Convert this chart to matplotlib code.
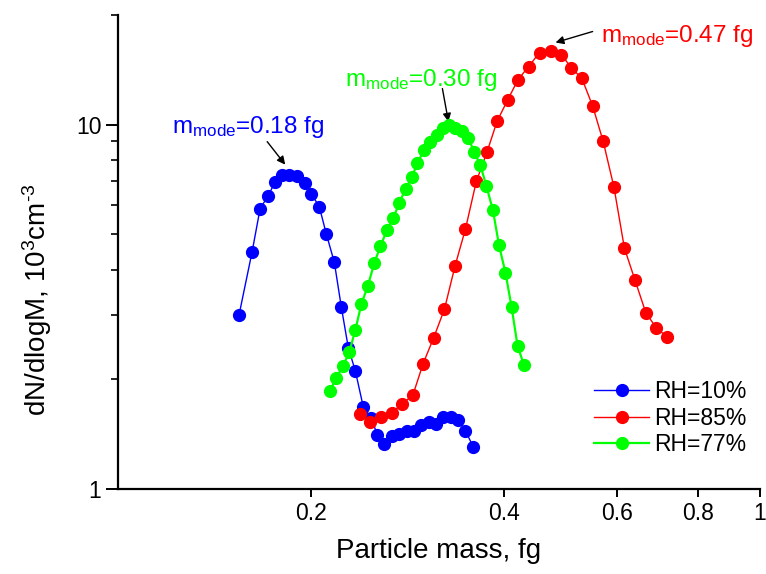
import matplotlib
matplotlib.use("Agg")
import matplotlib.pyplot as plt
from matplotlib.ticker import FixedLocator, NullFormatter, NullLocator, LogLocator

plt.rcParams['font.family'] = ['Liberation Sans', 'DejaVu Sans']
plt.rcParams['mathtext.fontset'] = 'custom'
plt.rcParams['mathtext.rm'] = 'Liberation Sans'
plt.rcParams['mathtext.it'] = 'Liberation Sans'

# ---- data ----
blue_x = [0.1544, 0.1618, 0.1665, 0.1714, 0.1758, 0.1803, 0.1848, 0.1902, 0.1958,
          0.2001, 0.2059, 0.2111, 0.2173, 0.2228, 0.2285, 0.2343, 0.2411, 0.2481,
          0.2535, 0.2600, 0.2676, 0.2744, 0.2824, 0.2896, 0.2969, 0.3056, 0.3134,
          0.3214, 0.3308, 0.3392, 0.3478, 0.3579]
blue_y = [3.006, 4.478, 5.878, 6.382, 6.973, 7.289, 7.267, 7.220, 6.929,
          6.463, 5.953, 5.018, 4.191, 3.162, 2.440, 2.110, 1.680, 1.567,
          1.407, 1.329, 1.398, 1.416, 1.443, 1.443, 1.499, 1.528, 1.508,
          1.577, 1.577, 1.547, 1.443, 1.304]

red_x = [0.2385, 0.2472, 0.2570, 0.2669, 0.2771, 0.2880, 0.2988, 0.3104, 0.3226,
         0.3350, 0.3478, 0.3616, 0.3756, 0.3898, 0.4049, 0.4200, 0.4361, 0.4537,
         0.4721, 0.4908, 0.5087, 0.5280, 0.5488, 0.5700, 0.5925, 0.6151, 0.6391,
         0.6641, 0.6900, 0.7161]
red_y = [1.604, 1.531, 1.580, 1.618, 1.714, 1.809, 2.209, 2.604, 3.117,
         4.091, 5.170, 6.982, 8.393, 10.24, 11.71, 13.29, 14.42, 15.77,
         15.95, 15.54, 14.31, 13.40, 11.26, 9.000, 6.735, 4.585, 3.739,
         3.050, 2.764, 2.620]

green_x = [0.2142, 0.2188, 0.2244, 0.2293, 0.2343, 0.2394, 0.2450, 0.2508, 0.2563,
           0.2624, 0.2685, 0.2744, 0.2808, 0.2872, 0.2927, 0.3001, 0.3066, 0.3140,
           0.3208, 0.3276, 0.3356, 0.3438, 0.3513, 0.3592, 0.3670, 0.3750, 0.3839,
           0.3923, 0.4015, 0.4103, 0.4193, 0.4288]
green_y = [1.862, 2.022, 2.182, 2.378, 2.731, 3.213, 3.607, 4.170, 4.632,
           5.131, 5.541, 6.106, 6.679, 7.197, 7.850, 8.537, 8.952, 9.387,
           9.763, 9.969, 9.813, 9.585, 9.193, 8.393, 7.731, 6.777, 5.815,
           4.667, 3.921, 3.168, 2.471, 2.195]

labels = ["RH=10%", "RH=85%", "RH=77%"]
x_ticks = [0.2, 0.4, 0.6, 0.8, 1.0]
x_ticklabels = ["0.2", "0.4", "0.6", "0.8", "1"]
y_ticks = [1, 10]
y_ticklabels = ["1", "10"]

BLUE = "#0000FF"
RED = "#FF0000"
GREEN = "#00FF00"

fig = plt.figure(figsize=(7.66, 5.74), dpi=100)
ax = fig.add_axes([0.154, 0.148, 0.838, 0.826])

ms = 8.5
ax.plot(blue_x, blue_y, '-o', color=BLUE, lw=1.0, ms=ms, mec=BLUE, label=labels[0], zorder=3)
ax.plot(red_x, red_y, '-o', color=RED, lw=1.0, ms=ms, mec=RED, label=labels[1], zorder=3)
ax.plot(green_x, green_y, '-o', color=GREEN, lw=1.6, ms=ms, mec=GREEN, label=labels[2], zorder=4)

ax.set_xscale('log')
ax.set_yscale('log')
ax.set_xlim(0.1, 1.0)
ax.set_ylim(1, 20)

ax.xaxis.set_major_locator(FixedLocator(x_ticks))
ax.set_xticklabels(x_ticklabels)
ax.xaxis.set_minor_locator(NullLocator())
ax.xaxis.set_minor_formatter(NullFormatter())
ax.yaxis.set_major_locator(FixedLocator(y_ticks))
ax.set_yticklabels(y_ticklabels)
ax.yaxis.set_minor_locator(LogLocator(base=10, subs=[2, 3, 4, 5, 6, 7, 8, 9]))
ax.yaxis.set_minor_formatter(NullFormatter())

for s in ['top', 'right']:
    ax.spines[s].set_visible(False)
for s in ['left', 'bottom']:
    ax.spines[s].set_linewidth(1.6)

ax.tick_params(axis='both', which='major', direction='out', width=1.4, labelsize=16.5, pad=3)
ax.tick_params(axis='x', which='major', length=6)
ax.tick_params(axis='y', which='major', length=9)
ax.tick_params(axis='y', which='minor', direction='out', length=5, width=1.2)

ax.set_xlabel("Particle mass, fg", fontsize=20, labelpad=10)
ax.set_ylabel(r"dN/dlogM, 10$^{3}$cm$^{\text{-3}}$", fontsize=20)
ax.yaxis.set_label_coords(-0.10, 0.40)

# annotations
fs = 17.5
ax.text(0.1214, 9.506, r"m$_{\mathrm{mode}}$=0.18 fg", color=BLUE, fontsize=fs, ha='left', va='baseline')
ax.text(0.2259, 12.80, r"m$_{\mathrm{mode}}$=0.30 fg", color=GREEN, fontsize=fs, ha='left', va='baseline')
ax.text(0.5648, 16.90, r"m$_{\mathrm{mode}}$=0.47 fg", color=RED, fontsize=fs, ha='left', va='baseline')

arrow = dict(arrowstyle='-|>', color='black', lw=1.0, mutation_scale=12, shrinkA=0, shrinkB=0)
ax.annotate('', xy=(0.1822, 7.766), xytext=(0.1708, 8.98), arrowprops=arrow)
ax.annotate('', xy=(0.3272, 10.19), xytext=(0.3202, 12.56), arrowprops=arrow)
ax.annotate('', xy=(0.4805, 16.80), xytext=(0.5489, 18.01), arrowprops=arrow)

leg = ax.legend(loc='lower right', bbox_to_anchor=(1.0, 0.04), frameon=False, fontsize=16.5,
                handlelength=2.4, handletextpad=0.2, labelspacing=0.15, borderaxespad=0.2)

fig.savefig("out.png", dpi=100)
